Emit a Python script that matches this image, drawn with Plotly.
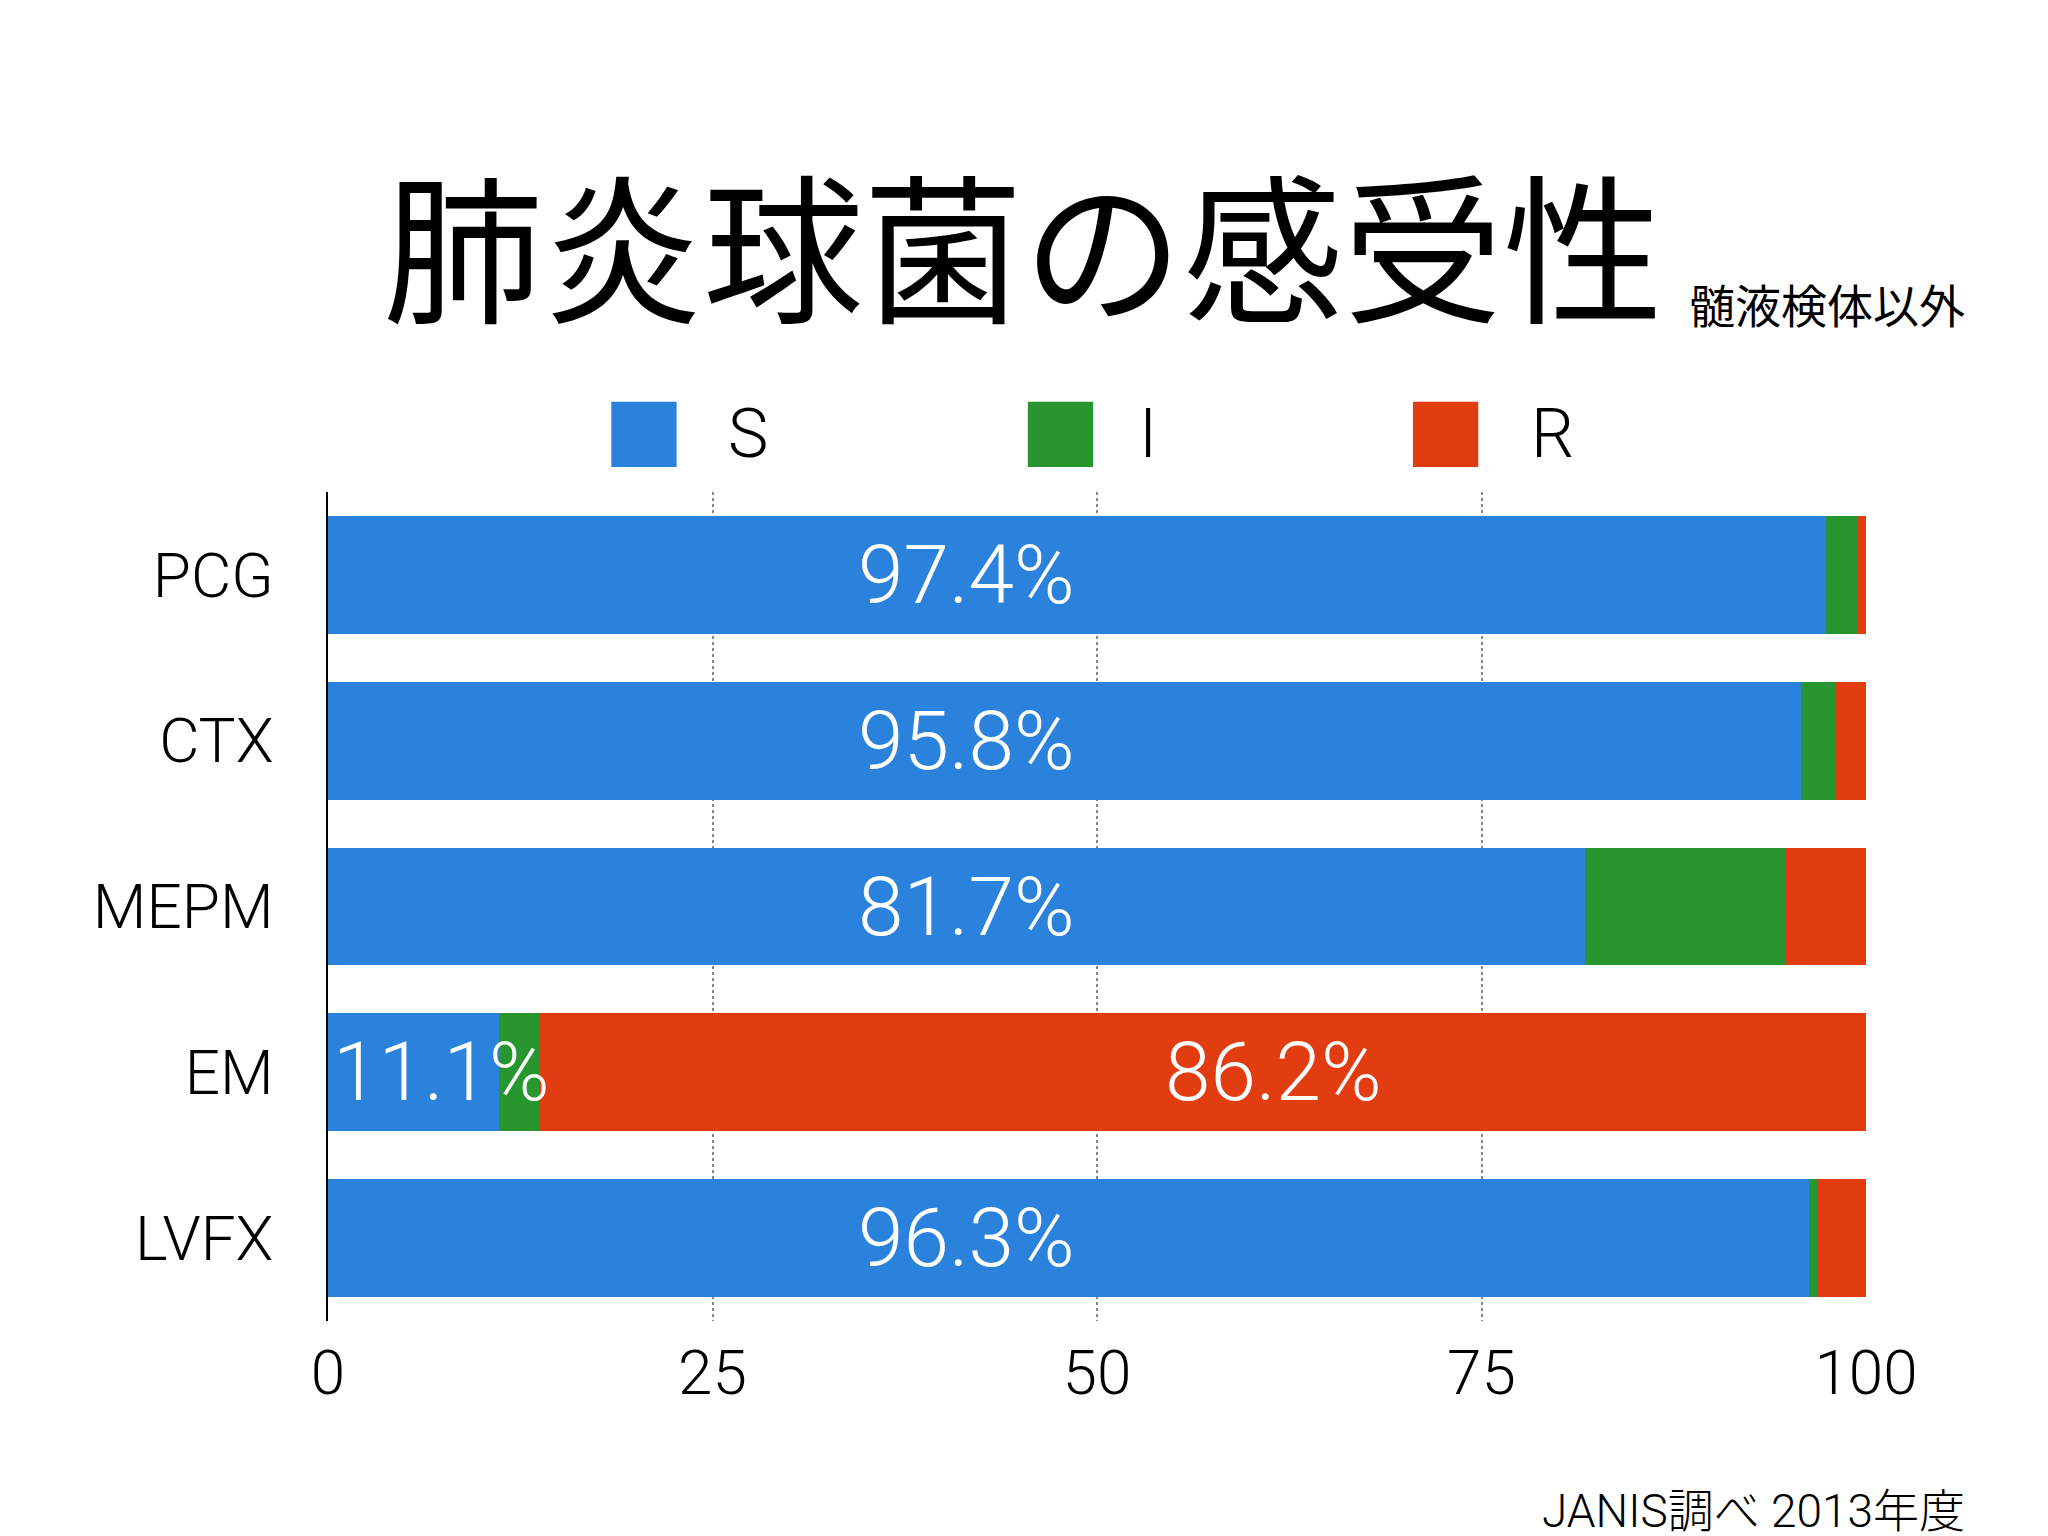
import plotly.graph_objects as go

drugs = ["PCG", "CTX", "MEPM", "EM", "LVFX"]
S = [97.4, 95.8, 81.7, 11.1, 96.3]
I = [2.1, 2.2, 13.1, 2.7, 0.5]
R = [0.5, 2.0, 5.2, 86.2, 3.2]
labels = ["97.4%", "95.8%", "81.7%", "11.1%", "96.3%"]
r_labels = ["", "", "", "86.2%", ""]
ticks = [0, 25, 50, 75, 100]

FONT = "Roboto, Noto Sans CJK JP"
CJK = "Noto Sans CJK JP"
cols = {"S": "#2b82dd", "I": "#27962f", "R": "#e23d10"}

fig = go.Figure()
for name, vals in [("S", S), ("I", I), ("R", R)]:
    fig.add_trace(go.Bar(y=drugs, x=vals, orientation="h", name=name,
                         marker=dict(color=cols[name], line=dict(width=0)),
                         showlegend=False))

lf = dict(size=82, color="white", family=FONT, weight=300)
for d, s, lab, r, rl in zip(drugs, S, labels, R, r_labels):
    if s > 50:
        fig.add_annotation(x=41.5, y=d, text=lab, showarrow=False, xanchor="center",
                           yanchor="middle", font=lf)
    else:
        fig.add_annotation(x=0.2, y=d, text=lab, showarrow=False, xanchor="left",
                           yanchor="middle", font=lf)
    if rl:
        fig.add_annotation(x=61.5, y=d, text=rl, showarrow=False, xanchor="center",
                           yanchor="middle", font=lf)

def px(X):
    return (X - 250) / 1178

def py(Y):
    return (1010 - Y) / 633

for name, x0, tx in [("S", 467, 555), ("I", 786, 870), ("R", 1081, 1170)]:
    fig.add_shape(type="rect", xref="paper", yref="paper",
                  x0=px(x0), x1=px(x0 + 50), y0=py(358), y1=py(308),
                  fillcolor=cols[name], line=dict(width=0))
    fig.add_annotation(xref="paper", yref="paper", x=px(tx), y=py(333),
                       text=name, showarrow=False, xanchor="left", yanchor="middle",
                       font=dict(size=68, color="black", family=FONT, weight=300))

fig.add_annotation(xref="paper", yref="paper", x=px(782), y=py(185),
                   text="肺炎球菌の感受性", showarrow=False, xanchor="center", yanchor="middle",
                   font=dict(size=160, color="black", family=CJK, weight=400))
fig.add_annotation(xref="paper", yref="paper", x=px(1505), y=py(233),
                   text="髄液検体以外", showarrow=False, xanchor="right", yanchor="middle",
                   font=dict(size=46, color="black", family=CJK, weight=400))
fig.add_annotation(xref="paper", yref="paper", x=px(1505), y=py(1155),
                   text="JANIS調べ 2013年度", showarrow=False, xanchor="right", yanchor="middle",
                   font=dict(size=46, color="black", family=FONT, weight=300))

fig.update_layout(
    barmode="stack", bargap=0.29,
    width=2048, height=1536,
    margin=dict(l=320, r=190, t=484, b=223),
    plot_bgcolor="white", paper_bgcolor="white",
    font=dict(family=FONT, color="black"),
    xaxis=dict(range=[0, 100], tickvals=ticks, showgrid=True, gridcolor="#888",
               griddash="dot", gridwidth=1.5, zeroline=False, ticks="",
               tickfont=dict(size=62, family=FONT, weight=300), ticklabelstandoff=10),
    yaxis=dict(categoryorder="array", categoryarray=drugs[::-1], showline=True,
               linecolor="black", linewidth=2, ticks="",
               tickfont=dict(size=62, family=FONT, weight=300), ticklabelstandoff=40),
)
fig.write_html("out.html")
